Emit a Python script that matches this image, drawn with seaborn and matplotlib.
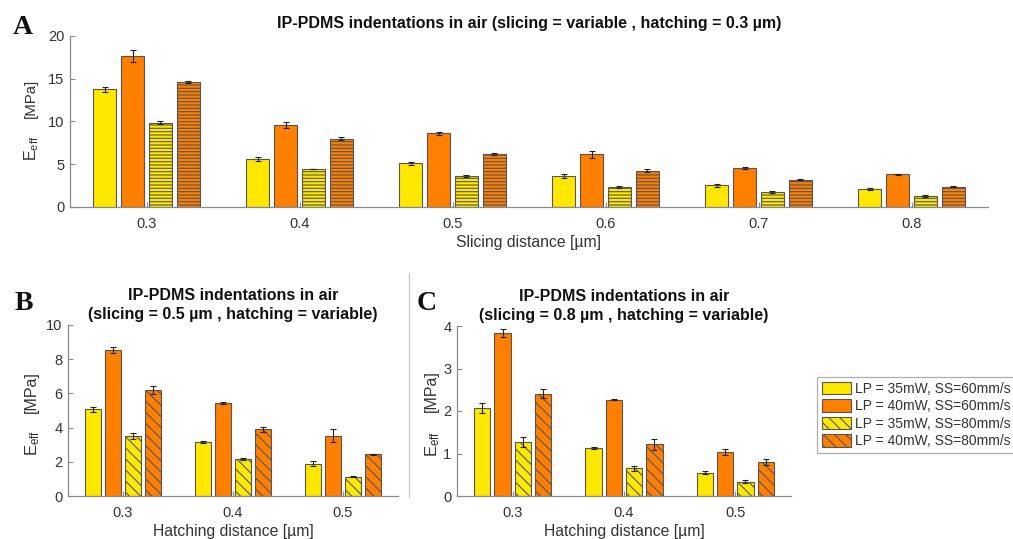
import matplotlib
matplotlib.use("Agg")
import matplotlib.pyplot as plt
from matplotlib.lines import Line2D
from matplotlib.container import BarContainer
import seaborn as sns
import pandas as pd

# ---------------- data ----------------
series = ["LP = 35mW, SS=60mm/s", "LP = 40mW, SS=60mm/s",
          "LP = 35mW, SS=80mm/s", "LP = 40mW, SS=80mm/s"]
series_colors = ["#FFE800", "#FF7F00", "#FFE800", "#FF7F00"]

slicing = ["0.3", "0.4", "0.5", "0.6", "0.7", "0.8"]
a_35_60 = [13.75, 5.63, 5.12, 3.63, 2.54, 2.07]
a_40_60 = [17.66, 9.57, 8.60, 6.17, 4.53, 3.83]
a_35_80 = [9.88, 4.45, 3.60, 2.34, 1.72, 1.29]
a_40_80 = [14.60, 8.00, 6.20, 4.26, 3.16, 2.38]
a_err_35_60 = [0.25, 0.20, 0.15, 0.20, 0.15, 0.10]
a_err_40_60 = [0.70, 0.35, 0.20, 0.40, 0.10, 0.08]
a_err_35_80 = [0.20, 0.05, 0.10, 0.10, 0.10, 0.10]
a_err_40_80 = [0.10, 0.20, 0.10, 0.15, 0.06, 0.06]

hatching = ["0.3", "0.4", "0.5"]
b_35_60 = [5.08, 3.16, 1.90]
b_40_60 = [8.54, 5.45, 3.52]
b_35_80 = [3.52, 2.15, 1.13]
b_40_80 = [6.19, 3.89, 2.44]
b_err_35_60 = [0.15, 0.07, 0.15]
b_err_40_60 = [0.20, 0.07, 0.37]
b_err_35_80 = [0.17, 0.07, 0.03]
b_err_40_80 = [0.22, 0.12, 0.03]

c_35_60 = [2.08, 1.13, 0.55]
c_40_60 = [3.84, 2.27, 1.03]
c_35_80 = [1.27, 0.65, 0.34]
c_40_80 = [2.41, 1.22, 0.81]
c_err_35_60 = [0.12, 0.03, 0.04]
c_err_40_60 = [0.10, 0.02, 0.07]
c_err_35_80 = [0.12, 0.05, 0.04]
c_err_40_80 = [0.10, 0.13, 0.07]

# ---------------- style ----------------
sns.set_style("ticks")
plt.rcParams["font.family"] = ["Liberation Sans", "DejaVu Sans"]
plt.rcParams["mathtext.fontset"] = "custom"
plt.rcParams["mathtext.rm"] = "Liberation Sans"
plt.rcParams["mathtext.it"] = "Liberation Sans"
plt.rcParams["hatch.linewidth"] = 0.8

AX_COL = "#8a8a8a"
TXT_COL = "#333333"
EDGE = "#555555"
HATCH_COL = "#262626"


def make_df(cats, vals):
    rows = []
    for s, v in zip(series, vals):
        for c, y in zip(cats, v):
            rows.append({"cat": c, "val": y, "series": s})
    return pd.DataFrame(rows)


def draw(ax, cats, vals, errs, hatch, yticks, xlabel):
    df = make_df(cats, vals)
    sns.barplot(data=df, x="cat", y="val", hue="series", hue_order=series,
                palette=dict(zip(series, series_colors)), order=cats,
                width=0.73, gap=0.19, errorbar=None, legend=False,
                saturation=1, edgecolor=EDGE, linewidth=0.8, ax=ax)
    bars = [c for c in ax.containers if isinstance(c, BarContainer)]
    for i, cont in enumerate(bars):
        xs, hs = [], []
        for p in cont.patches:
            if i >= 2:
                p.set_hatch(hatch)
                if hasattr(p, "set_hatchcolor"):
                    p.set_hatchcolor(HATCH_COL)
            xs.append(p.get_x() + p.get_width() / 2)
            hs.append(p.get_height())
        ax.errorbar(xs, hs, yerr=errs[i], fmt="none", ecolor="#222222",
                    elinewidth=0.8, capsize=2.2, capthick=0.8)
    ax.set_xlim(-0.5, len(cats) - 0.5)
    ax.set_ylim(yticks[0], yticks[-1])
    ax.set_yticks(yticks)
    sns.despine(ax=ax)
    for sp in ("left", "bottom"):
        ax.spines[sp].set_color(AX_COL)
        ax.spines[sp].set_linewidth(0.9)
    ax.tick_params(direction="in", length=3.5, width=0.8, color=AX_COL,
                   labelcolor=TXT_COL, labelsize=10.5)
    ax.tick_params(axis="x", pad=7.5)
    ax.tick_params(axis="y", pad=4)
    ax.set_xlabel(xlabel, fontsize=11.3, color=TXT_COL, labelpad=2.5)
    ax.set_ylabel("")
    return bars


W, H = 1013, 539
fig = plt.figure(figsize=(W / 100, H / 100), dpi=100)


def axes_px(l, r, t, b):
    return fig.add_axes([l / W, 1 - b / H, (r - l) / W, (b - t) / H])


def fig_text_px(x, y, s, **kw):
    return fig.text(x / W, 1 - y / H, s, **kw)


axA = axes_px(70, 988, 36, 207)
axB = axes_px(68, 398, 325, 496)
axC = axes_px(457, 791, 326, 496)

draw(axA, slicing, [a_35_60, a_40_60, a_35_80, a_40_80],
     [a_err_35_60, a_err_40_60, a_err_35_80, a_err_40_80],
     "-----", [0, 5, 10, 15, 20], "Slicing distance [µm]")
barsB = draw(axB, hatching, [b_35_60, b_40_60, b_35_80, b_40_80],
             [b_err_35_60, b_err_40_60, b_err_35_80, b_err_40_80],
             "\\\\\\", [0, 2, 4, 6, 8, 10], "Hatching distance [µm]")
draw(axC, hatching, [c_35_60, c_40_60, c_35_80, c_40_80],
     [c_err_35_60, c_err_40_60, c_err_35_80, c_err_40_80],
     "\\\\\\", [0, 1, 2, 3, 4], "Hatching distance [µm]")

# y-axis labels: E_eff  [MPa]
EEFF = r"E$_{\mathregular{eff}}$"
for (ex, ey, efs), (mx, my, mfs) in (
        ((32, 148, 11.5), (30.5, 98, 10.8)),
        ((33, 443, 12.0), (31, 392, 11.5)),
        ((433, 444, 12.0), (431, 391, 11.5))):
    fig_text_px(ex, ey, EEFF, fontsize=efs, rotation=90, ha="center",
                va="center", color=TXT_COL)
    fig_text_px(mx, my, "[MPa]", fontsize=mfs, rotation=90, ha="center",
                va="center", color=TXT_COL)

TITLE_FS = 11.5
axA.set_title("IP-PDMS indentations in air (slicing = variable , hatching = 0.3 µm)",
              fontsize=TITLE_FS, fontweight="bold", color="#111111", pad=6)
axB.set_title("IP-PDMS indentations in air\n(slicing = 0.5 µm , hatching = variable)",
              fontsize=TITLE_FS, fontweight="bold", color="#111111", pad=4.5,
              linespacing=1.35)
axC.set_title("IP-PDMS indentations in air\n(slicing = 0.8 µm , hatching = variable)",
              fontsize=TITLE_FS, fontweight="bold", color="#111111", pad=4.5,
              linespacing=1.35)

# panel letters
for letter, x, y in (("A", 23, 28), ("B", 24, 304), ("C", 427, 304)):
    fig_text_px(x, y, letter, fontsize=20, fontweight="bold",
                family=["Liberation Serif", "DejaVu Serif"], ha="center",
                va="center", color="#111111")

# separator line
fig.add_artist(Line2D([409 / W, 409 / W], [1 - 273 / H, 1 - 497 / H],
                      color="#c8c8c8", linewidth=0.9))

# legend (from panel B bars)
leg = fig.legend(handles=barsB, labels=series,
                 loc="upper left", bbox_to_anchor=(817 / W, 1 - 377 / H),
                 fontsize=10, frameon=True, fancybox=False,
                 edgecolor="#9a9a9a", handlelength=2.1, handleheight=1.0,
                 handletextpad=0.3, labelspacing=0.25, borderpad=0.35,
                 borderaxespad=0.0)
leg.get_frame().set_linewidth(0.9)
for t in leg.get_texts():
    t.set_color(TXT_COL)

fig.savefig("out.png", dpi=100)
